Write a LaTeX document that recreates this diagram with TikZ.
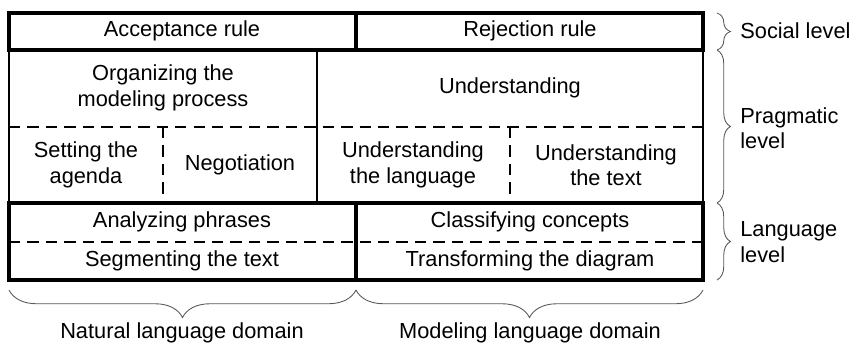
\documentclass[tikz,border=0pt]{standalone}
\usepackage{fontspec}
\setmainfont{Liberation Sans}
\usetikzlibrary{decorations.pathreplacing}

\begin{document}
\begin{tikzpicture}
\tikzset{heavy/.style = {line width=2.3pt, line join=miter},
	light/.style = {line width=0.8pt},
	dashes/.style = {line width=0.8pt, dash pattern=on 6.5pt off 4pt},
	cell/.style = {align=center, inner sep=0pt, font=\fontsize{12.4}{14.4}\selectfont},
	lvlbrace/.style = {decorate, decoration={brace, amplitude=#1}, line width=0.5pt, black!65}}
\useasboundingbox (0,0) rectangle (17.12,6.98);
            % grid lines
	\draw[light] (0.18,5.98) -- (0.18,2.92);
	\draw[light] (14.06,5.98) -- (14.06,2.92);
	\draw[light] (6.34,5.98) -- (6.34,2.92);
	\draw[dashes] (0.18,4.44) -- (14.06,4.44);
	\draw[dashes] (3.26,4.44) -- (3.26,2.92);
	\draw[dashes] (10.2,4.44) -- (10.2,2.92);
	\draw[dashes] (0.18,2.14) -- (14.06,2.14);
	\draw[heavy] (0.18,6.72) rectangle (14.06,5.98);
	\draw[heavy] (7.12,6.72) -- (7.12,5.98);
	\draw[heavy] (0.18,2.92) rectangle (14.06,1.38);
	\draw[heavy] (7.12,2.92) -- (7.12,1.38);
            % cells
	\node[cell] (accept) at (3.64,6.36) {Acceptance rule};
	\node[cell] (reject) at (10.6,6.36) {Rejection rule};
	\node[cell] (organize) at (3.26,5.22) {Organizing the\\modeling process};
	\node[cell] (underst) at (10.2,5.22) {Understanding};
	\node[cell] (agenda) at (1.72,3.68) {Setting the\\agenda};
	\node[cell] (negot) at (4.8,3.68) {Negotiation};
	\node[cell] (ulang) at (8.26,3.68) {Understanding\\the language};
	\node[cell] (utext) at (12.12,3.68) {Understanding\\the text};
	\node[cell] (phrases) at (3.64,2.54) {Analyzing phrases};
	\node[cell] (segment) at (3.64,1.76) {Segmenting the text};
	\node[cell] (classify) at (10.6,2.54) {Classifying concepts};
	\node[cell] (transform) at (10.6,1.76) {Transforming the diagram};
            % braces and levels
	\draw[lvlbrace=0.27cm] (14.34,6.72) -- (14.34,5.98);
	\draw[lvlbrace=0.27cm] (14.34,5.98) -- (14.34,2.92);
	\draw[lvlbrace=0.27cm] (14.34,2.92) -- (14.34,1.38);
	\draw[lvlbrace=0.55cm] (7.12,1.18) -- (0.18,1.18);
	\draw[lvlbrace=0.55cm] (14.06,1.18) -- (7.12,1.18);
	\node[cell, anchor=west, align=left] (social) at (14.8,6.36) {Social level};
	\node[cell, anchor=west, align=left] (pragm) at (14.8,4.42) {Pragmatic\\level};
	\node[cell, anchor=west, align=left] (langlvl) at (14.8,2.14) {Language\\level};
	\node[cell] (natural) at (3.64,0.32) {Natural language domain};
	\node[cell] (modeling) at (10.6,0.32) {Modeling language domain};
\end{tikzpicture}
\end{document}
